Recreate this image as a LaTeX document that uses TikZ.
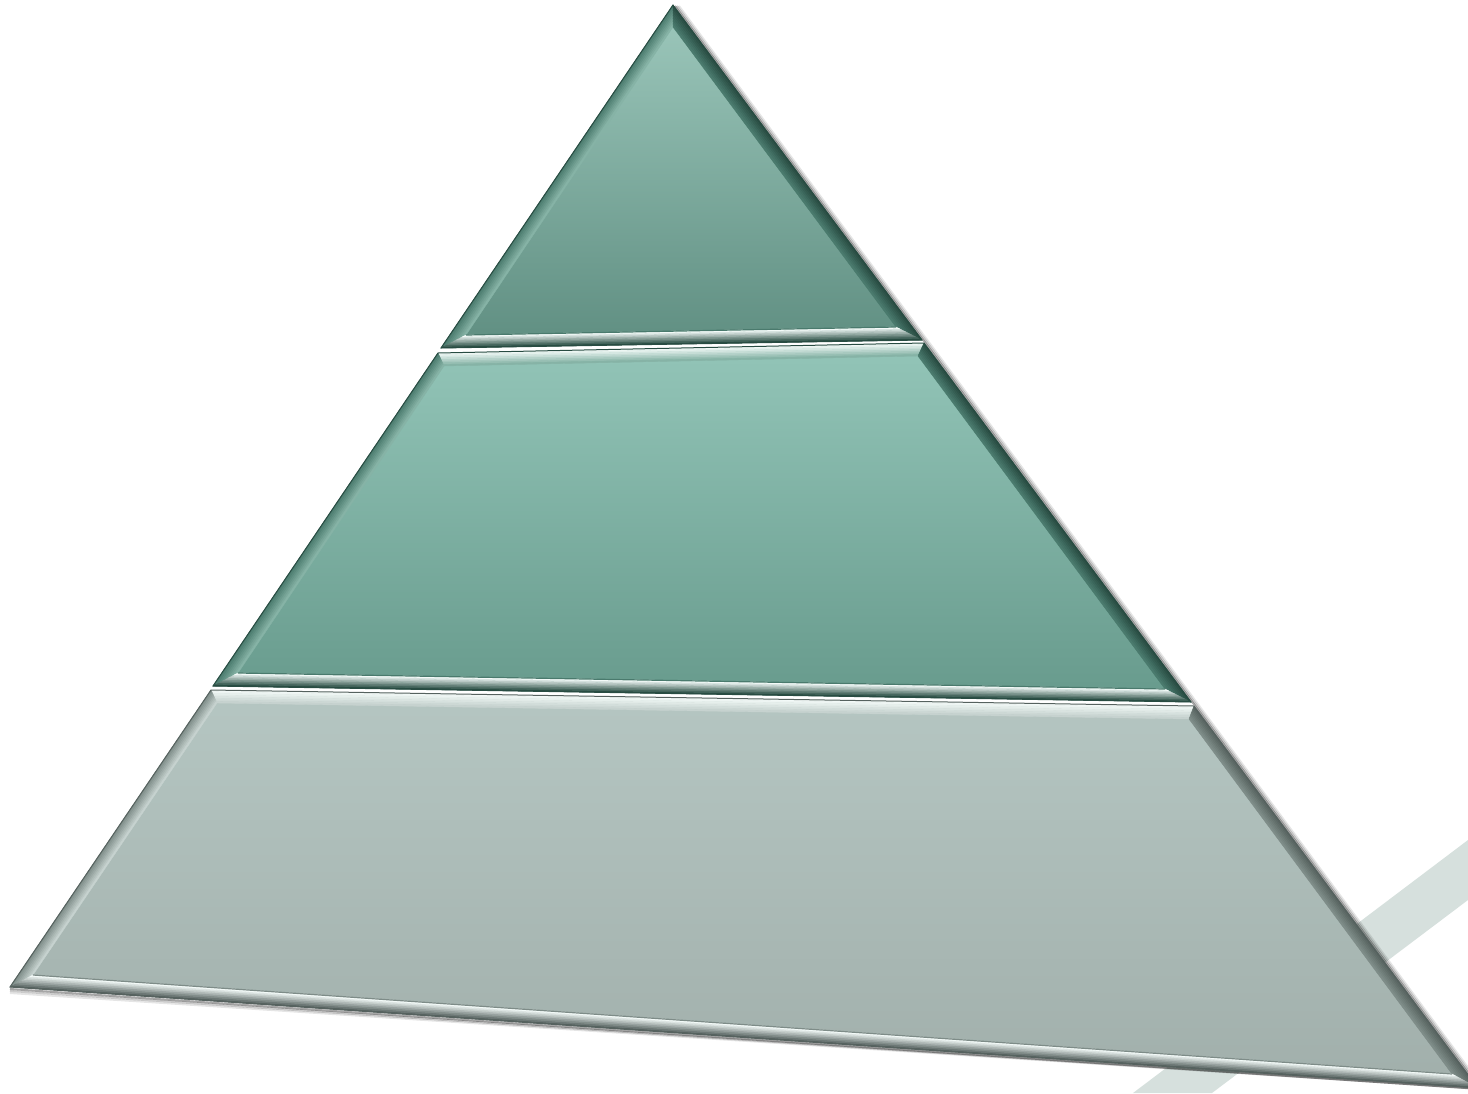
\documentclass[tikz,border=0pt]{standalone}
\usepackage{tikz}
\usetikzlibrary{calc}
\definecolor{stripe}{HTML}{D6E0DD}
\definecolor{tealtop}{HTML}{9DC8BC}
\definecolor{tealbot}{HTML}{5F8E81}
\definecolor{midtop}{HTML}{93C5B8}
\definecolor{midbot}{HTML}{679A8C}
\definecolor{greytop}{HTML}{B5C6C2}
\definecolor{greybot}{HTML}{A1AFAB}
\definecolor{tealrim}{HTML}{284C42}
\definecolor{tealside}{HTML}{86B3A6}
\definecolor{tealshade}{HTML}{4A7A6D}
\definecolor{greyrim}{HTML}{56625F}
\definecolor{greyside}{HTML}{C6D2CF}
\definecolor{greyshade}{HTML}{7E8C88}
\definecolor{glint}{HTML}{F4FBF9}

% strip between two outer and two inner corners, coloured from #5 (outside) to #6 (inside)
\newcommand\bevel[6]{%
  \foreach \k in {0,...,7}{%
    \pgfmathsetmacro\s{\k/8}\pgfmathsetmacro\e{(\k+1)/8}\pgfmathtruncatemacro\m{\k*100/7}%
    \filldraw[fill=#6!\m!#5, draw=#6!\m!#5, line width=0.2pt]
      ($(#1)!\s!(#4)$) -- ($(#2)!\s!(#3)$) -- ($(#2)!\e!(#3)$) -- ($(#1)!\e!(#4)$) -- cycle;
  }%
}

\begin{document}
\begin{tikzpicture}[x=0.5pt, y=-0.5pt,
  rim/.style={draw=#1, line width=0.5pt, line join=round}]
  \useasboundingbox (0,0) rectangle (1468,1093);

  % faint stripe behind the pyramid
  \fill[stripe] (1468,840) -- (1133,1093) -- (1212,1093) -- (1468,900) -- cycle;

  % top tier
  \coordinate (topA) at (673,5);
  \coordinate (topL) at (441,348);
  \coordinate (topR) at (922,340);
  \coordinate (topAi) at (673,27);
  \coordinate (topLi) at (466,335);
  \coordinate (topRi) at (896,327);
  % middle tier
  \coordinate (midTL) at (438,353);
  \coordinate (midTR) at (924,343);
  \coordinate (midBR) at (1191,702);
  \coordinate (midBL) at (213,686);
  \coordinate (midTLi) at (444,366);
  \coordinate (midTRi) at (918,356);
  \coordinate (midBRi) at (1165,689);
  \coordinate (midBLi) at (238,673);
  % bottom tier
  \coordinate (botTL) at (211,690);
  \coordinate (botTR) at (1194,706);
  \coordinate (botBR) at (1478,1088);
  \coordinate (botBL) at (10,987);
  \coordinate (botTLi) at (217,703);
  \coordinate (botTRi) at (1189,719);
  \coordinate (botBRi) at (1452,1074);
  \coordinate (botBLi) at (33,975);

  % soft shadow on the right flank
  \foreach \o/\op in {2/0.35, 4/0.2, 6/0.1}
    \draw[black, opacity=\op, line width=1pt]
      ($(topA)+(\o,1)$) -- ($(botBR)+(\o,1)$) -- ($(botBL)+(0,\o)$);

  % faces
  \shade[top color=tealtop, bottom color=tealbot] (topA) -- (topL) -- (topR) -- cycle;
  \shade[top color=midtop, bottom color=midbot] (midTL) -- (midTR) -- (midBR) -- (midBL) -- cycle;
  \shade[top color=greytop, bottom color=greybot] (botTL) -- (botTR) -- (botBR) -- (botBL) -- cycle;

  % bevels, top tier
  \bevel{topA}{topL}{topLi}{topAi}{tealshade}{tealside}
  \bevel{topR}{topA}{topAi}{topRi}{tealrim}{tealshade}
  \bevel{topL}{topR}{topRi}{topLi}{tealrim}{glint}
  \draw[tealshade, line width=0.6pt] (topLi) -- (topRi);

  % bevels, middle tier
  \bevel{midTL}{midTR}{midTRi}{midTLi}{glint}{tealside}
  \bevel{midBL}{midTL}{midTLi}{midBLi}{tealshade}{tealside}
  \bevel{midTR}{midBR}{midBRi}{midTRi}{tealrim}{tealshade}
  \bevel{midBR}{midBL}{midBLi}{midBRi}{tealrim}{glint}
  \draw[tealshade, line width=0.6pt] (midBLi) -- (midBRi);

  % bevels, bottom tier
  \bevel{botTL}{botTR}{botTRi}{botTLi}{glint}{greyside}
  \bevel{botBL}{botTL}{botTLi}{botBLi}{greyshade}{greyside}
  \bevel{botTR}{botBR}{botBRi}{botTRi}{greyrim}{greyshade}
  \bevel{botBR}{botBL}{botBLi}{botBRi}{greyrim}{glint}
  \draw[greyshade, line width=0.6pt] (botBLi) -- (botBRi);

  % outlines
  \draw[rim=tealrim] (topA) -- (topL) -- (topR) -- cycle;
  \draw[rim=tealrim] (midTL) -- (midTR) -- (midBR) -- (midBL) -- cycle;
  \draw[rim=greyrim] (botTL) -- (botTR) -- (botBR) -- (botBL) -- cycle;
\end{tikzpicture}
\end{document}
